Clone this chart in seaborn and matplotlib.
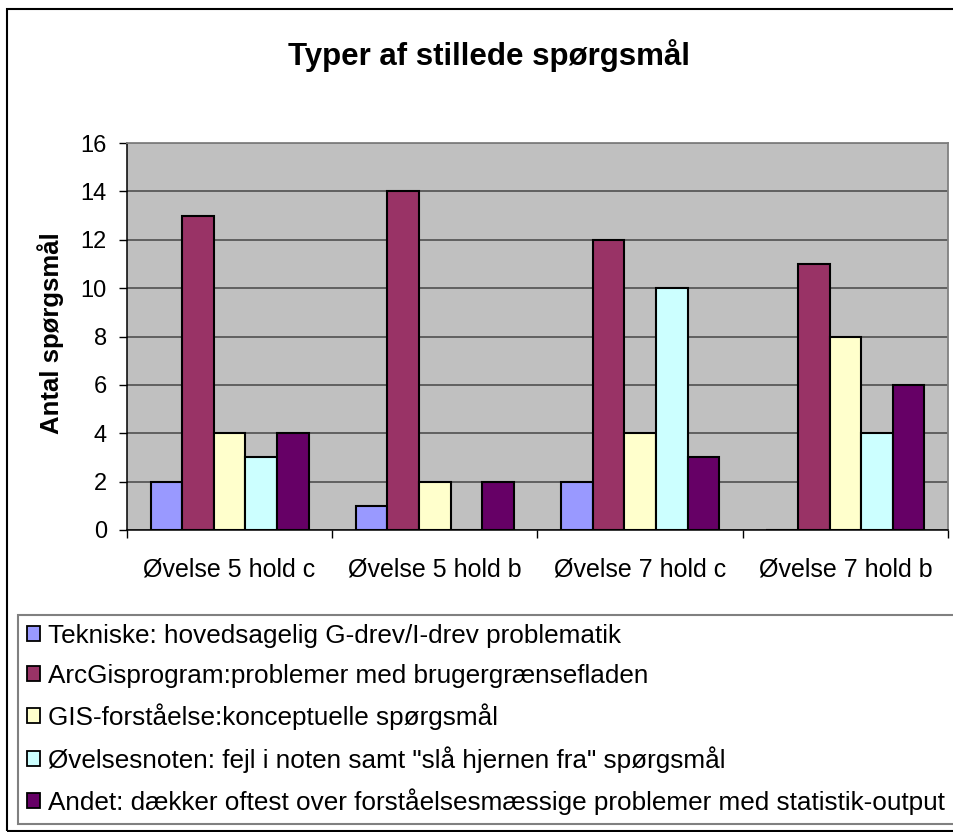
import pandas as pd
import numpy as np
import matplotlib
matplotlib.use('Agg')
import matplotlib.pyplot as plt
from matplotlib.patches import Patch, Rectangle
import seaborn as sns

# Data
kategorier = ['Øvelse 5 hold c', 'Øvelse 5 hold b', 'Øvelse 7 hold c', 'Øvelse 7 hold b']
serier = [
    'Tekniske: hovedsagelig G-drev/I-drev problematik',
    'ArcGisprogram:problemer med brugergrænsefladen',
    'GIS-forståelse:konceptuelle spørgsmål',
    'Øvelsesnoten: fejl i noten samt "slå hjernen fra" spørgsmål',
    'Andet: dækker oftest over forståelsesmæssige problemer med statistik-output',
]
tekniske = [2, 1, 2, 0]
arcgis = [13, 14, 12, 11]
gis_forstaaelse = [4, 2, 4, 8]
oevelsesnoten = [3, 0, 10, 4]
andet = [4, 2, 3, 6]
farver = ['#9999FF', '#993366', '#FFFFCC', '#CCFFFF', '#660066']
y_ticks = [0, 2, 4, 6, 8, 10, 12, 14, 16]

vaerdier = [tekniske, arcgis, gis_forstaaelse, oevelsesnoten, andet]
rows = []
for s, vals in zip(serier, vaerdier):
    for k, v in zip(kategorier, vals):
        rows.append({'Kategori': k, 'Serie': s, 'Antal': v})
df = pd.DataFrame(rows)

sns.set_theme(style='white')
plt.rcParams['font.family'] = ['Liberation Sans', 'DejaVu Sans']
plt.rcParams['text.color'] = 'black'
plt.rcParams['axes.labelcolor'] = 'black'
plt.rcParams['xtick.color'] = 'black'
plt.rcParams['ytick.color'] = 'black'

W, H = 954, 832
fig = plt.figure(figsize=(W / 100, H / 100), dpi=100)
fig.patch.set_facecolor('white')

# plot area in pixels: left 127, right 948, top 143, bottom 530
ax = fig.add_axes([127 / W, 1 - 530 / H, 821 / W, 387 / H])
ax.set_facecolor('#C0C0C0')

sns.barplot(data=df, x='Kategori', y='Antal', hue='Serie', hue_order=serier,
            palette=farver, saturation=1, width=0.77, gap=0, errorbar=None,
            edgecolor='black', linewidth=1.5, legend=False, ax=ax, zorder=3)

ax.set_ylim(0, 16)
ax.set_xlim(-0.5, 3.5)
ax.set_yticks(y_ticks)
ax.set_yticklabels([str(t) for t in y_ticks], fontsize=17)
ax.yaxis.grid(True, color='#505050', linewidth=1.2, zorder=0)
ax.set_axisbelow(True)
ax.set_xlabel('')
ax.set_ylabel('')

ax.set_xticks(range(len(kategorier)))
ax.set_xticklabels(kategorier, fontsize=18)
ax.set_xticks(np.arange(-0.5, 4, 1), minor=True)
ax.tick_params(axis='x', which='major', length=0, pad=20, colors='black')
ax.tick_params(axis='x', which='minor', length=5.5, width=1, direction='out', color='black', bottom=True)
ax.tick_params(axis='y', length=6, width=1, direction='out', color='black', pad=8.5, left=True, labelcolor='black')

for side in ['top', 'right']:
    ax.spines[side].set_color('#808080')
    ax.spines[side].set_linewidth(1.3)
for side in ['left', 'bottom']:
    ax.spines[side].set_color('black')
    ax.spines[side].set_linewidth(1.1)

fig.text(489 / W, 1 - 65 / H, 'Typer af stillede spørgsmål', fontsize=22.5,
         fontweight='bold', ha='center', va='baseline', color='black')
fig.text(51 / W, 1 - 333 / H, 'Antal spørgsmål', fontsize=18.5, fontweight='bold',
         rotation=90, ha='center', va='center', color='black')

handles = [Patch(facecolor=c, edgecolor='black', linewidth=1.3) for c in farver]
leg = fig.legend(handles, serier, loc='upper left',
                 bbox_to_anchor=(18 / W, 0, 945 / W, 1 - 615 / H), mode='expand',
                 borderaxespad=0, fontsize=18.8, handlelength=0.5, handleheight=0.5,
                 handletextpad=0.3, borderpad=0.35, labelspacing=0.6,
                 fancybox=False, framealpha=1, frameon=True)
for t in leg.get_texts():
    t.set_color('black')
leg.get_frame().set_edgecolor('#808080')
leg.get_frame().set_linewidth(1.5)

# outer chart border
fig.patches.append(Rectangle((7 / W, 1 - 831 / H), 960 / W, 822 / H, transform=fig.transFigure,
                             fill=False, edgecolor='black', linewidth=1.5, zorder=0))

fig.savefig('out.png', dpi=100)
